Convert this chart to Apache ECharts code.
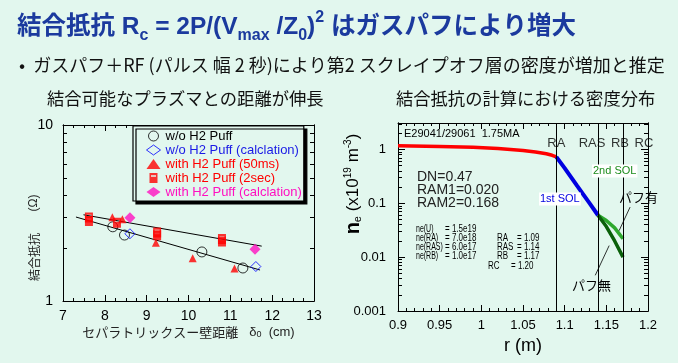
<!DOCTYPE html>
<html><head><meta charset="utf-8">
<script src="https://cdn.jsdelivr.net/npm/echarts@6/dist/echarts.min.js"></script>
<style>html,body{margin:0;padding:0;background:#e2f7ee}#c{width:678px;height:363px}</style>
</head><body><div id="c"></div>
<script>
// ---------- left chart: coupling resistance vs separatrix-wall distance ----------
const woPuff     = [[8.19,2.64],[8.47,2.37],[10.32,1.90],[11.30,1.54]];
const woPuffCalc = [[8.60,2.41],[11.61,1.57]];
const puff50ms   = [[8.18,2.99],[8.42,2.91],[9.22,2.14],[10.10,1.75],[11.10,1.53]];
const puff2sec   = [[7.62,2.98],[7.62,2.85],[8.29,2.78],[9.25,2.45],[9.25,2.36],[10.80,2.25],[10.80,2.18]];
const puffCalc   = [[8.60,2.97],[11.59,1.97]];
const fitUpper   = [[7.49,3.09],[11.75,2.05]];
const fitLower   = [[7.31,3.00],[11.71,1.50]];
const leftYLabels = [1,10];
const legendNames = ['w/o H2 Puff','w/o H2 Puff (calclation)','with H2 Puff (50ms)','with H2 Puff (2sec)','with H2 Puff (calclation)'];

// ---------- right chart: density profile ----------
const coreProfile = [[0.90,1.17],[0.95,1.14],[0.99,1.10],[1.02,1.04],[1.05,0.96],[1.065,0.90],[1.078,0.83],[1.085,0.78],[1.09,0.73]];
const sol1Profile = [[1.09,0.73],[1.10,0.45],[1.115,0.21],[1.13,0.10],[1.14,0.06]];
const sol2Puff    = [[1.14,0.06],[1.15,0.048],[1.16,0.035],[1.17,0.022]];
const sol2NoPuff  = [[1.14,0.06],[1.15,0.037],[1.16,0.02],[1.17,0.01]];
const boundaryNames = ['RA','RAS','RB','RC'];
const boundaryR     = [1.09,1.14,1.17,1.20];
const boundaryLabelNe = 1.29;
const leaderPuff   = [[1.1785,0.085],[1.1653,0.031]];
const leaderNoPuff = [[1.1367,0.0046],[1.1534,0.0164]];
const rightYLabels = [0.001,0.01,0.1,1];

const BG = '#e2f7ee';
const LAT = '"Liberation Sans", Arial, "Noto Sans CJK JP", sans-serif';
const JP = '"Noto Sans CJK JP", sans-serif';
const BLACK = '#000';
const SQUARE_WITH_BAR = 'path://M0,0H8V10H0Z M1.5,2.2V3.8H6.5V2.2Z';

function minorLog(lo, hi){
  const out=[];
  for(let e=Math.floor(Math.log10(lo)); e<=Math.ceil(Math.log10(hi)); e++){
    for(let m=2;m<=9;m++){ const v=+(m*Math.pow(10,e)).toPrecision(6); if(v>lo && v<hi) out.push(v); }
  }
  return out;
}
function yAxes(grid, min, max, labels, labelOpts){
  const base = {type:'log', logBase:10, gridIndex:grid, min:min, max:max,
    splitLine:{show:false}, minorTick:{show:false},
    axisLine:{show:true, lineStyle:{color:BLACK, width:1}}};
  const major = {show:true, inside:true, length:7, customValues:labels, lineStyle:{color:BLACK}};
  const minor = {show:true, inside:true, length:4, customValues:minorLog(min,max), lineStyle:{color:BLACK}};
  return [
    Object.assign({}, base, {position:'left', axisTick:major, axisLabel:Object.assign({show:true, customValues:labels, color:BLACK, fontFamily:LAT}, labelOpts)}),
    Object.assign({}, base, {position:'left', axisTick:minor, axisLabel:{show:false}}),
    Object.assign({}, base, {position:'right', axisTick:major, axisLabel:{show:false}}),
    Object.assign({}, base, {position:'right', axisTick:minor, axisLabel:{show:false}})
  ];
}
function xAxes(grid, min, max, interval, split, labelOpts, nameOpts){
  const base = {type:'value', gridIndex:grid, min:min, max:max, interval:interval,
    splitLine:{show:false}, minorSplitLine:{show:false},
    axisLine:{show:true, onZero:false, lineStyle:{color:BLACK, width:1}},
    axisTick:{show:true, inside:true, length:6, lineStyle:{color:BLACK}},
    minorTick:{show:true, splitNumber:split, length:3, lineStyle:{color:BLACK}}};
  return [
    Object.assign({}, base, {position:'bottom', axisLabel:Object.assign({color:BLACK, fontFamily:LAT}, labelOpts)}, nameOpts),
    Object.assign({}, base, {position:'top', axisLabel:{show:false}})
  ];
}

const chart = echarts.init(document.getElementById('c'), null, {renderer:'canvas'});

const xAxis = [].concat(
  xAxes(0, 7, 13, 1, 4, {fontSize:14, margin:8}, {
    name:'{a|セパラトリックスー壁距離}{b|   δ}{c|0}{b|  (cm)}', nameLocation:'middle', nameGap:25,
    nameTextStyle:{rich:{a:{fontFamily:JP, fontSize:13, color:'#222'}, b:{fontFamily:LAT, fontSize:13, color:'#222'}, c:{fontFamily:LAT, fontSize:9, verticalAlign:'bottom', color:'#222'}}}
  }),
  xAxes(1, 0.9, 1.2, 0.05, 5, {fontSize:13, margin:8}, {
    name:'r (m)', nameLocation:'middle', nameGap:22, nameTextStyle:{fontFamily:LAT, fontSize:18, color:BLACK}
  })
);
const yAxis = [].concat(
  yAxes(0, 1, 10, leftYLabels, {fontSize:14, margin:10}),
  yAxes(1, 0.001, 3.1, rightYLabels, {fontSize:13, margin:12})
);

const sc = (name, data, symbol, size, style) => ({
  name:name, type:'scatter', xAxisIndex:0, yAxisIndex:0, data:data, symbol:symbol, symbolSize:size,
  itemStyle:style, z:5, emphasis:{disabled:true}
});
const circleStyle = {color:'rgba(0,0,0,0)', borderColor:'#000', borderWidth:1};
const dBlueStyle  = {color:'rgba(0,0,0,0)', borderColor:'#0000ff', borderWidth:1};

const series = [
  {type:'line', xAxisIndex:0, yAxisIndex:0, data:fitUpper, symbol:'none', lineStyle:{color:BLACK, width:1}, z:3, silent:true},
  {type:'line', xAxisIndex:0, yAxisIndex:0, data:fitLower, symbol:'none', lineStyle:{color:BLACK, width:1}, z:3, silent:true},
  sc(legendNames[0], woPuff, 'circle', 10, circleStyle),
  sc(legendNames[1], woPuffCalc, 'diamond', 10, dBlueStyle),
  sc(legendNames[2], puff50ms, 'triangle', 8, {color:'#ff0000'}),
  sc(legendNames[3], puff2sec, SQUARE_WITH_BAR, [8,10], {color:'#ff0000'}),
  sc(legendNames[4], puffCalc, 'diamond', 11, {color:'#ff10c0'}),
  // right chart
  {type:'line', xAxisIndex:2, yAxisIndex:4, data:coreProfile, symbol:'none', lineStyle:{color:'#ff0000', width:3.5}, z:4, silent:true,
    markLine:{silent:true, symbol:'none', label:{show:false}, lineStyle:{color:BLACK, width:1, type:'solid'},
      data: boundaryR.slice(0,3).map(r => ({xAxis:r}))}},
  {type:'line', xAxisIndex:2, yAxisIndex:4, data:sol1Profile, symbol:'none', lineStyle:{color:'#0000e0', width:4}, z:4, silent:true},
  {type:'line', xAxisIndex:2, yAxisIndex:4, data:sol2Puff, symbol:'none', lineStyle:{color:'#2ea82e', width:3.5}, z:4, silent:true},
  {type:'line', xAxisIndex:2, yAxisIndex:4, data:sol2NoPuff, symbol:'none', lineStyle:{color:'#0a600a', width:3.5}, z:4, silent:true},
  {type:'line', xAxisIndex:2, yAxisIndex:4, data:leaderPuff, symbol:'none', lineStyle:{color:BLACK, width:0.8}, z:4, silent:true},
  {type:'line', xAxisIndex:2, yAxisIndex:4, data:leaderNoPuff, symbol:'none', lineStyle:{color:BLACK, width:0.8}, z:4, silent:true},
  {type:'scatter', xAxisIndex:2, yAxisIndex:4, symbolSize:0, silent:true, z:6,
    data: boundaryNames.map((n,i) => ({value:[boundaryR[i], boundaryLabelNe], name:n,
      label:{offset:[[0,-6,-3,-4][i],0]}})),
    label:{show:true, position:'inside', formatter:'{b}', color:BLACK, fontFamily:LAT, fontSize:13}}
];

const txt = (x, y, text, opts) => ({type:'text', x:x, y:y, silent:true, z:20,
  style:Object.assign({text:text, fill:BLACK, font:'13px ' + LAT, textVerticalAlign:'middle', verticalAlign:'middle'}, opts||{})});
const small = (x, y, text, sx) => Object.assign(txt(x, y, text, {font:'10px ' + LAT}), {scaleX:sx||0.8});

const graphic = [
  Object.assign(txt(34, 257, '結合抵抗', {font:'12px ' + JP, align:'center', fill:'#222'}), {rotation:Math.PI/2}),
  Object.assign(txt(34, 203, '(Ω)', {font:'12px ' + LAT, align:'center', fill:'#222'}), {rotation:Math.PI/2}),
  Object.assign(txt(353, 184, '', {align:'center',
    text:'{n|n}{e|e}{t| (x10}{p|19}{t| m}{p|-3}{t|)}',
    rich:{n:{font:'bold 20px ' + LAT, fill:BLACK}, e:{font:'11px ' + LAT, fill:BLACK, verticalAlign:'bottom'},
          t:{font:'17px ' + LAT, fill:BLACK}, p:{font:'10px ' + LAT, fill:BLACK, verticalAlign:'top'}}}), {rotation:Math.PI/2}),
  txt(404, 134, 'E29041/29061  1.75MA', {font:'11px ' + LAT}),
  txt(417, 177, 'DN=0.47', {font:'14px ' + LAT, fill:'#222'}),
  txt(417, 190, 'RAM1=0.020', {font:'14px ' + LAT, fill:'#222'}),
  txt(417, 203, 'RAM2=0.168', {font:'14px ' + LAT, fill:'#222'}),
  small(416, 229, 'ne(U)', 0.7),  small(445, 229, '= 1.5e19'),
  small(416, 238, 'ne(RA)', 0.7), small(445, 238, '= 7.0e18'), small(497, 238, 'RA'),  small(517, 238, '= 1.09'),
  small(416, 247, 'ne(RAS)', 0.7),small(445, 247, '= 6.0e17'), small(497, 247, 'RAS'), small(517, 247, '= 1.14'),
  small(416, 256, 'ne(RB)', 0.7), small(445, 256, '= 1.0e17'), small(497, 256, 'RB'),  small(517, 256, '= 1.17'),
  small(488, 266, 'RC'), small(511, 266, '= 1.20'),
  txt(539, 199, '1st SOL', {font:'11px ' + LAT, fill:'#0000e0', backgroundColor:'#fff', padding:[1,1,1,1]}),
  txt(592, 171, '2nd SOL', {font:'11px ' + LAT, fill:'#1c8c1c', backgroundColor:'#fff', padding:[1,1,1,1]}),
  txt(619, 197, 'パフ有', {font:'13px ' + JP}),
  txt(572, 285, 'パフ無', {font:'13px ' + JP})
];

chart.setOption({
  backgroundColor: BG,
  animation:false,
  title:[
    {left:12, top:5, text:'{m|結合抵抗 R}{s|c}{m| = 2P/(V}{s|max}{m| /Z}{s|0}{m|)}{p|2}{m| はガスパフにより増大}',
      textStyle:{rich:{
        m:{fontFamily:LAT, fontSize:24.5, fontWeight:'bold', color:'#1b3a9e', lineHeight:34},
        s:{fontFamily:LAT, fontSize:16, fontWeight:'bold', color:'#1b3a9e', lineHeight:19, verticalAlign:'bottom'},
        p:{fontFamily:LAT, fontSize:16, fontWeight:'bold', color:'#1b3a9e', lineHeight:19, verticalAlign:'top'}}}},
    {left:14, top:51, text:'•  ガスパフ＋RF (パルス 幅 2 秒)により第2 スクレイプオフ層の密度が増加と推定',
      textStyle:{fontFamily:JP, fontSize:18, fontWeight:'normal', color:'#111'}},
    {left:42, top:85, text:'結合可能なプラズマとの距離が伸長', textStyle:{fontFamily:JP, fontSize:17.3, fontWeight:'normal', color:'#111'}},
    {left:391, top:85, text:'結合抵抗の計算における密度分布', textStyle:{fontFamily:JP, fontSize:17.3, fontWeight:'normal', color:'#111'}}
  ],
  grid:[
    {left:63, top:125, width:251, height:176},
    {left:398, top:123, width:250, height:188}
  ],
  legend:{
    orient:'vertical', left:133, top:126, padding:[3,2,2,13], itemGap:0,
    itemWidth:14, itemHeight:10, backgroundColor:BG, borderColor:BLACK, borderWidth:1.2,
    shadowColor:'#000', shadowBlur:0, shadowOffsetX:3, shadowOffsetY:3,
    textStyle:{fontFamily:LAT, fontSize:13, lineHeight:14},
    selectedMode:false,
    data:[
      {name:legendNames[0], textStyle:{color:'#000'}, itemStyle:circleStyle},
      {name:legendNames[1], textStyle:{color:'#1a1ae6'}, itemStyle:dBlueStyle},
      {name:legendNames[2], textStyle:{color:'#ff0000'}},
      {name:legendNames[3], textStyle:{color:'#ff0000'}},
      {name:legendNames[4], textStyle:{color:'#ff10c0'}}
    ]
  },
  xAxis:xAxis,
  yAxis:yAxis,
  series:series,
  graphic:graphic
});
</script>
</body></html>
